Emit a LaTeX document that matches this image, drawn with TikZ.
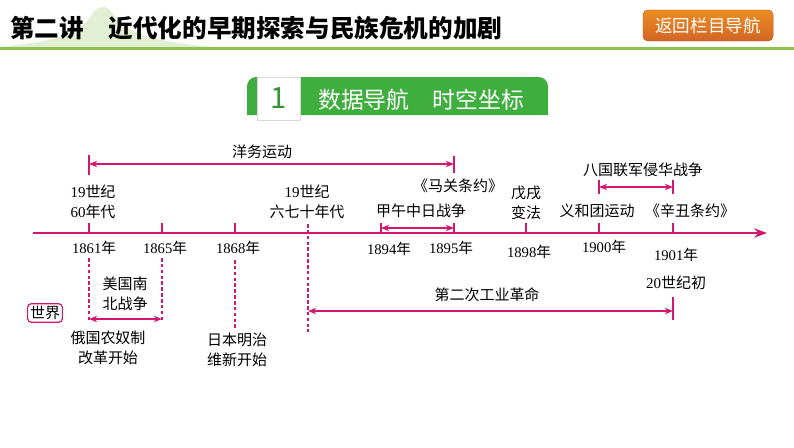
\documentclass[tikz,border=0pt]{standalone}
\usepackage{fontspec}
\setmainfont{Liberation Serif}
\newfontfamily\cjk{Noto Sans CJK SC}
\usetikzlibrary{arrows.meta,positioning}

\definecolor{tlred}{HTML}{D3166E}
\definecolor{hdgreen}{HTML}{8CC152}
\definecolor{bngreen}{HTML}{3FAE3F}
\definecolor{btnorange}{HTML}{E8702A}

\tikzset{
	lbl/.style={font=\fontsize{12.8}{17}\selectfont\cjk,align=center,inner sep=1pt},
	yr/.style={font=\fontsize{12.5}{15}\selectfont,inner sep=1pt},
	tl/.style={draw=tlred,line width=1.1pt},
	span/.style={tl,{Stealth[length=7pt,width=5.5pt]}-{Stealth[length=7pt,width=5.5pt]}},
	guide/.style={draw=tlred,line width=0.9pt,dash pattern=on 3pt off 2pt},
	btn/.style={rounded corners=4pt,top color=btnorange!80!yellow,bottom color=btnorange!90!black,
		draw=btnorange!80!black,text=white,minimum width=3.9cm,minimum height=0.93cm,
		font=\fontsize{15}{15}\selectfont\cjk},
	numbox/.style={fill=white,draw=black!15,minimum width=1.29cm,minimum height=1.29cm,inner sep=0pt,
		text=bngreen!85!black,font=\fontsize{25}{25}\selectfont\cjk},
	worldbox/.style={lbl,draw=tlred,line width=1pt,rounded corners=3pt,inner sep=2pt}
}

\begin{document}
\begin{tikzpicture}[x=0.03cm,y=-0.03cm]
			\useasboundingbox (0,0) rectangle (794,447);
			% header
			\fill[hdgreen!25] (0,47) .. controls (45,42) and (72,38) .. (88,20) .. controls (96,6) and (106,2) .. (113,14) .. controls (126,36) and (165,42) .. (210,47) -- cycle;
			\fill[hdgreen] (0,46.5) rectangle (794,50);
			\node[anchor=west,inner sep=0pt,font=\fontsize{21}{21}\selectfont\cjk\bfseries] (title) at (10,28) {第二讲\quad 近代化的早期探索与民族危机的加剧};
			\node[btn] (back) at (708,25.5) {返回栏目导航};
			% banner
			\fill[bngreen] (247,115) [rounded corners=8pt] -- (247,77) -- (548,77) [sharp corners] -- (548,115) -- cycle;
			\node[numbox] (num) at (278.5,98.5) {1};
			\node[anchor=west,inner sep=0pt,text=white,font=\fontsize{19.5}{20}\selectfont\cjk] (bntext) at (318,100) {数据导航\quad 时空坐标};

			% time axis
			\coordinate (ax0) at (33,233);
			\coordinate (ax1) at (767,233);
			\draw[tl,-{Stealth[length=11pt,width=8pt]}] (ax0) -- (ax1);
			\foreach \n/\x in {1861/89,1865/162,1868/235,1894/381,1895/454,1898/526,1900/599,1901/673}{
				\coordinate (p\n) at (\x,233);
				\draw[tl] (p\n) -- ++(0,-10);
			}
			\foreach \n/\x/\y in {1861/94/248,1865/165/248,1868/238/248,1894/389/249,1895/451/248,1898/529/252,1900/604/247,1901/676/255}
				\node[yr] (y\n) at (\x,\y) {\n{\cjk 年}};

			% above the axis
			\coordinate (yw0) at (89,164);
			\coordinate (yw1) at (454,164);
			\draw[tl] (89,155) -- (89,175) (454,156) -- (454,173);
			\path[span] (yw0) -- (yw1);
			\node[lbl] (yangwu) at (262,152) {洋务运动};
			\node[lbl] (l60) at (93,202) {{\rmfamily 19}世纪\\{\rmfamily 60}年代};
			\node[lbl] (l6070) at (307,202) {{\rmfamily 19}世纪\\六七十年代};
			\draw[guide] (308,224) -- (308,332);
			\coordinate (jw0) at (381,228);
			\coordinate (jw1) at (454,228);
			\path[span] (jw0) -- (jw1);
			\node[lbl] (jiawu) at (421,211) {甲午中日战争};
			\node[lbl] (maguan) at (458,186) {《马关条约》};
			\node[lbl] (wuxu) at (526,203) {戊戌\\变法};
			\node[lbl] (yihe) at (597,211) {义和团运动};
			\node[lbl] (xinchou) at (690,211) {《辛丑条约》};
			\coordinate (bg0) at (599,187);
			\coordinate (bg1) at (673,187);
			\draw[tl] (599,180) -- (599,194) (673,180) -- (673,194);
			\path[span] (bg0) -- (bg1);
			\node[lbl] (baguo) at (643,170) {八国联军侵华战争};

			% world, below the axis
			\node[worldbox] (world) at (45,313) {世界};
			\draw[guide] (89,258) -- (89,320);
			\draw[guide] (162,258) -- (162,320);
			\draw[guide] (235,260) -- (235,328);
			\coordinate (nb0) at (89,319);
			\coordinate (nb1) at (162,319);
			\path[span] (nb0) -- (nb1);
			\node[lbl] (nanbei) at (125,294) {美国南\\北战争};
			\node[lbl] (nongnu) at (108,348) {俄国农奴制\\改革开始};
			\node[lbl] (meiji) at (237,350) {日本明治\\维新开始};
			\coordinate (gy0) at (308,311);
			\coordinate (gy1) at (673,311);
			\draw[tl] (673,297) -- (673,320);
			\path[span] (gy0) -- (gy1);
			\node[lbl] (gongye) at (487,295) {第二次工业革命};
			\node[lbl] (c20) at (676,283) {{\rmfamily 20}世纪初};
		\end{tikzpicture}
\end{document}
